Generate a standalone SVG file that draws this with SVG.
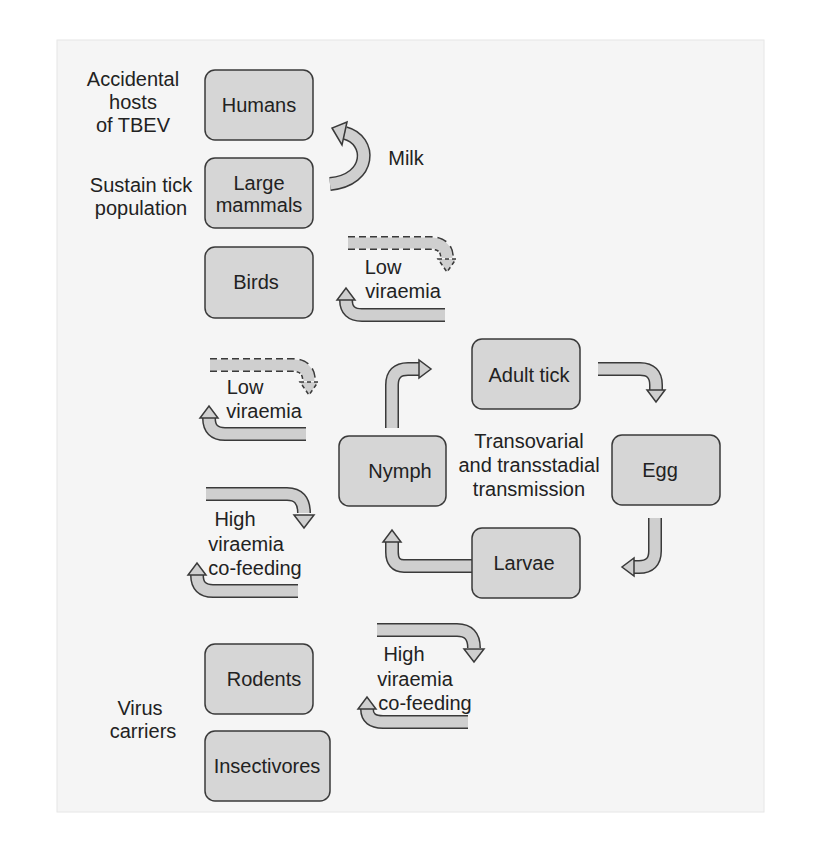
<svg xmlns="http://www.w3.org/2000/svg" width="820" height="854" viewBox="0 0 820 854">
<style>
.box{fill:#d6d6d6;stroke:#3a3a3a;stroke-width:1.5}
text{font-family:"Liberation Sans",Arial,sans-serif;font-size:20px;fill:#222;text-anchor:middle}
.o{fill:none;stroke:#3a3a3a;stroke-width:14;stroke-linejoin:round}
.od{fill:none;stroke:#3a3a3a;stroke-width:14;stroke-dasharray:7 4}
.i{fill:none;stroke:#cfcfcf;stroke-width:11;stroke-linejoin:round}
.h{fill:#cfcfcf;stroke:#3a3a3a;stroke-width:1.5}
.hd{fill:#cfcfcf;stroke:#3a3a3a;stroke-width:1.5;stroke-dasharray:4 3}
</style>
<rect width="820" height="854" fill="#fff"/>
<rect x="57" y="40" width="707" height="772" fill="#f5f5f5" stroke="#e6e6e6"/>
<g id="connectors">
<path class="o" d="M330,184 C372,180 372,140 345,133"/><path class="i" d="M330,184 C372,180 372,140 345,133"/>
<polygon class="h" points="347,122 342,145 332,128"/>
<path class="od" d="M348,243 H430 Q447,243 447,258"/><path class="i" d="M348,243 H430 Q447,243 447,258"/>
<polygon class="hd" points="438,259 456,259 447,272"/>
<path class="o" d="M445,315 H362 Q346,315 346,300"/><path class="i" d="M445,315 H362 Q346,315 346,300"/>
<polygon class="h" points="337,300 355,300 346,288"/>
<path class="od" d="M210,365 H292 Q309,365 309,381"/><path class="i" d="M210,365 H292 Q309,365 309,381"/>
<polygon class="hd" points="300,382 318,382 309,395"/>
<path class="o" d="M306,434 H225 Q209,434 209,418"/><path class="i" d="M306,434 H225 Q209,434 209,418"/>
<polygon class="h" points="200,418 218,418 209,406"/>
<path class="o" d="M206,494 H287 Q304,494 304,513"/><path class="i" d="M206,494 H287 Q304,494 304,513"/>
<polygon class="h" points="294,515 314,515 304,528"/>
<path class="o" d="M298,591 H213 Q197,591 197,575"/><path class="i" d="M298,591 H213 Q197,591 197,575"/>
<polygon class="h" points="188,575 206,575 197,563"/>
<path class="o" d="M377,630 H457 Q474,630 474,648"/><path class="i" d="M377,630 H457 Q474,630 474,648"/>
<polygon class="h" points="464,649 484,649 474,662"/>
<path class="o" d="M468,722 H383 Q367,722 367,709"/><path class="i" d="M468,722 H383 Q367,722 367,709"/>
<polygon class="h" points="358,709 376,709 367,697"/>
<path class="o" d="M392,428 V385 Q392,369 408,369 H419"/><path class="i" d="M392,428 V385 Q392,369 408,369 H419"/>
<polygon class="h" points="419,360 419,378 431,369"/>
<path class="o" d="M598,369 H640 Q656,369 656,385 V390"/><path class="i" d="M598,369 H640 Q656,369 656,385 V390"/>
<polygon class="h" points="647,390 665,390 656,402"/>
<path class="o" d="M655,518 V551 Q655,567 639,567 H634"/><path class="i" d="M655,518 V551 Q655,567 639,567 H634"/>
<polygon class="h" points="634,558 634,576 622,567"/>
<path class="o" d="M475,566 H404 Q392,566 392,552 V542"/><path class="i" d="M475,566 H404 Q392,566 392,552 V542"/>
<polygon class="h" points="383,542 401,542 392,530"/>
</g>
<g id="humans"><rect class="box" x="205" y="70" width="108" height="70" rx="10"/><text x="259" y="112">Humans</text></g>
<g id="large-mammals"><rect class="box" x="205" y="158" width="108" height="70" rx="10"/><text x="259" y="190">Large</text><text x="259" y="212">mammals</text></g>
<g id="birds"><rect class="box" x="205" y="247" width="108" height="71" rx="10"/><text x="256" y="289">Birds</text></g>
<g id="adult-tick"><rect class="box" x="472" y="339" width="108" height="70" rx="10"/><text x="529" y="382">Adult tick</text></g>
<g id="nymph"><rect class="box" x="339" y="436" width="107" height="70" rx="10"/><text x="400" y="478">Nymph</text></g>
<g id="egg"><rect class="box" x="612" y="435" width="108" height="70" rx="10"/><text x="660" y="477">Egg</text></g>
<g id="larvae"><rect class="box" x="472" y="528" width="108" height="70" rx="10"/><text x="524" y="570">Larvae</text></g>
<g id="rodents"><rect class="box" x="205" y="644" width="108" height="70" rx="10"/><text x="264" y="686">Rodents</text></g>
<g id="insectivores"><rect class="box" x="205" y="731" width="125" height="70" rx="10"/><text x="267" y="773">Insectivores</text></g>
<g id="labels">
<text x="133" y="86">Accidental</text><text x="133" y="109">hosts</text><text x="133" y="132">of TBEV</text>
<text x="406" y="165">Milk</text>
<text x="141" y="192">Sustain tick</text><text x="141" y="215">population</text>
<text x="383" y="274">Low</text><text x="403" y="298">viraemia</text>
<text x="245" y="394">Low</text><text x="264" y="418">viraemia</text>
<text x="529" y="448">Transovarial</text><text x="529" y="472">and transstadial</text><text x="529" y="496">transmission</text>
<text x="235" y="526">High</text><text x="246" y="551">viraemia</text><text x="255" y="575">co-feeding</text>
<text x="404" y="661">High</text><text x="415" y="686">viraemia</text><text x="425" y="710">co-feeding</text>
<text x="140" y="715">Virus</text><text x="143" y="738">carriers</text>
</g>
</svg>
